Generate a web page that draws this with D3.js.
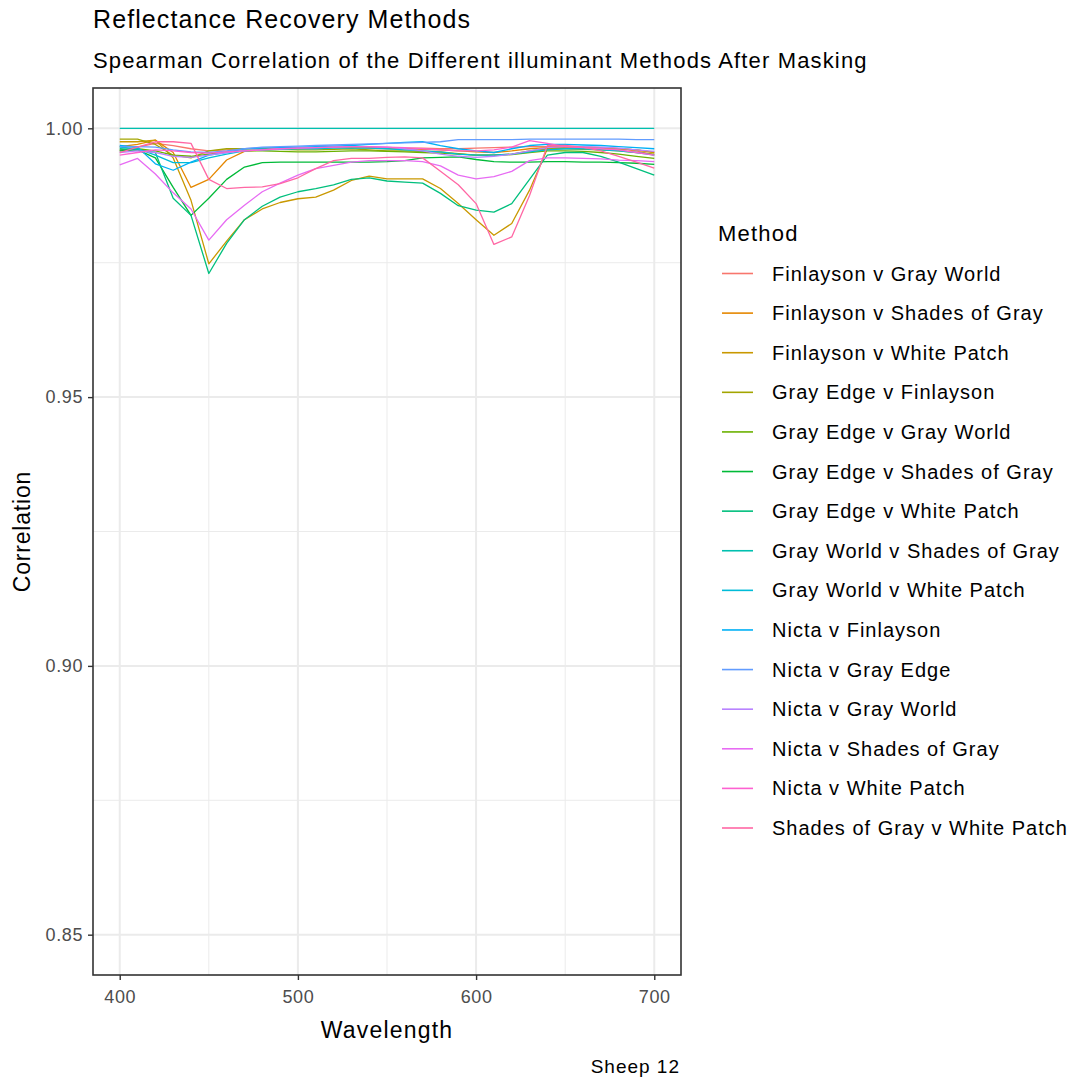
<!DOCTYPE html>
<html>
<head>
<meta charset="utf-8">
<script src="https://cdn.jsdelivr.net/npm/d3@7"></script>
<style>
  html, body { margin: 0; padding: 0; background: #ffffff; }
  svg text { font-family: "Liberation Sans", Arial, sans-serif; }
</style>
</head>
<body>
<svg id="chart" width="1079" height="1078"></svg>
<script>
// Wavelengths (nm) at which each pair of recovery methods is compared
const wavelengths = [400,410,420,430,440,450,460,470,480,490,500,510,520,530,540,550,560,570,580,590,600,610,620,630,640,650,660,670,680,690,700];

const methods = [
  "Finlayson v Gray World",
  "Finlayson v Shades of Gray",
  "Finlayson v White Patch",
  "Gray Edge v Finlayson",
  "Gray Edge v Gray World",
  "Gray Edge v Shades of Gray",
  "Gray Edge v White Patch",
  "Gray World v Shades of Gray",
  "Gray World v White Patch",
  "Nicta v Finlayson",
  "Nicta v Gray Edge",
  "Nicta v Gray World",
  "Nicta v Shades of Gray",
  "Nicta v White Patch",
  "Shades of Gray v White Patch"
];

// Spearman correlation per method pair, one value per wavelength
const finlaysonGrayWorld = [0.9958,0.9965,0.9972,0.9968,0.9962,0.9958,0.9960,0.9962,0.9963,0.9963,0.9964,0.9964,0.9965,0.9965,0.9964,0.9964,0.9963,0.9963,0.9962,0.9962,0.9963,0.9964,0.9965,0.9966,0.9966,0.9966,0.9965,0.9964,0.9962,0.9958,0.9950];
const finlaysonShades = [0.9966,0.9970,0.9978,0.9955,0.9890,0.9905,0.9941,0.9957,0.9960,0.9961,0.9962,0.9963,0.9964,0.9964,0.9963,0.9962,0.9962,0.9961,0.9960,0.9958,0.9956,0.9955,0.9958,0.9962,0.9964,0.9965,0.9965,0.9964,0.9962,0.9960,0.9955];
const finlaysonWhitePatch = [0.9975,0.9975,0.9978,0.9945,0.9866,0.9748,0.9790,0.9830,0.9850,0.9862,0.9869,0.9872,0.9885,0.9903,0.9911,0.9906,0.9906,0.9906,0.9888,0.9860,0.9830,0.9801,0.9823,0.9885,0.9962,0.9964,0.9964,0.9963,0.9962,0.9960,0.9955];
const grayEdgeFinlayson = [0.9980,0.9980,0.9970,0.9950,0.9945,0.9958,0.9962,0.9962,0.9962,0.9961,0.9960,0.9960,0.9961,0.9962,0.9960,0.9958,0.9958,0.9957,0.9956,0.9953,0.9950,0.9950,0.9952,0.9958,0.9962,0.9962,0.9961,0.9960,0.9958,0.9955,0.9952];
const grayEdgeGrayWorld = [0.9960,0.9962,0.9958,0.9950,0.9948,0.9952,0.9956,0.9958,0.9958,0.9957,0.9956,0.9956,0.9957,0.9958,0.9958,0.9957,0.9956,0.9955,0.9954,0.9952,0.9950,0.9950,0.9951,0.9955,0.9958,0.9958,0.9957,0.9955,0.9952,0.9948,0.9944];
const grayEdgeShades = [0.9958,0.9960,0.9945,0.9890,0.9838,0.9870,0.9905,0.9928,0.9936,0.9937,0.9937,0.9937,0.9937,0.9937,0.9937,0.9938,0.9940,0.9945,0.9946,0.9947,0.9942,0.9938,0.9937,0.9937,0.9938,0.9938,0.9937,0.9937,0.9936,0.9935,0.9933];
const grayEdgeWhitePatch = [0.9962,0.9960,0.9955,0.9870,0.9838,0.9730,0.9786,0.9830,0.9855,0.9872,0.9882,0.9888,0.9895,0.9905,0.9908,0.9902,0.9900,0.9898,0.9879,0.9856,0.9848,0.9844,0.9860,0.9905,0.9950,0.9955,0.9955,0.9948,0.9937,0.9925,0.9913];
const grayWorldShades = [1,1,1,1,1,1,1,1,1,1,1,1,1,1,1,1,1,1,1,1,1,1,1,1,1,1,1,1,1,1,1];
const grayWorldWhitePatch = [0.9965,0.9962,0.9950,0.9936,0.9936,0.9945,0.9952,0.9958,0.9960,0.9961,0.9962,0.9962,0.9963,0.9963,0.9963,0.9962,0.9960,0.9958,0.9956,0.9952,0.9950,0.9950,0.9952,0.9956,0.9960,0.9962,0.9962,0.9960,0.9958,0.9955,0.9950];
const nictaFinlayson = [0.9968,0.9965,0.9934,0.9922,0.9937,0.9950,0.9955,0.9962,0.9963,0.9964,0.9965,0.9966,0.9967,0.9968,0.9970,0.9972,0.9974,0.9975,0.9968,0.9962,0.9958,0.9955,0.9962,0.9968,0.9970,0.9970,0.9969,0.9968,0.9966,0.9964,0.9962];
const nictaGrayEdge = [0.9966,0.9966,0.9965,0.9960,0.9956,0.9955,0.9958,0.9962,0.9965,0.9966,0.9967,0.9968,0.9969,0.9970,0.9971,0.9972,0.9973,0.9974,0.9975,0.9979,0.9979,0.9979,0.9979,0.9980,0.9980,0.9980,0.9980,0.9980,0.9980,0.9979,0.9979];
const nictaGrayWorld = [0.9955,0.9958,0.9955,0.9948,0.9946,0.9950,0.9955,0.9958,0.9960,0.9962,0.9963,0.9964,0.9965,0.9966,0.9966,0.9965,0.9962,0.9958,0.9952,0.9948,0.9946,0.9948,0.9952,0.9958,0.9964,0.9966,0.9966,0.9965,0.9963,0.9960,0.9957];
const nictaShades = [0.9932,0.9944,0.9915,0.9880,0.9850,0.9792,0.9830,0.9857,0.9882,0.9898,0.9913,0.9925,0.9931,0.9937,0.9940,0.9940,0.9940,0.9938,0.9930,0.9913,0.9906,0.9910,0.9920,0.9940,0.9945,0.9945,0.9944,0.9943,0.9941,0.9940,0.9938];
const nictaWhitePatch = [0.9950,0.9955,0.9960,0.9958,0.9955,0.9954,0.9956,0.9958,0.9960,0.9962,0.9963,0.9964,0.9965,0.9966,0.9966,0.9965,0.9964,0.9962,0.9960,0.9958,0.9958,0.9960,0.9965,0.9977,0.9972,0.9966,0.9964,0.9962,0.9960,0.9955,0.9950];
const shadesWhitePatch = [0.9955,0.9965,0.9975,0.9975,0.9972,0.9905,0.9888,0.9890,0.9891,0.9897,0.9908,0.9925,0.9940,0.9944,0.9944,0.9946,0.9947,0.9945,0.9920,0.9895,0.9860,0.9784,0.9798,0.9875,0.9968,0.9968,0.9965,0.9958,0.9948,0.9937,0.9926];

const seriesValues = [
  finlaysonGrayWorld, finlaysonShades, finlaysonWhitePatch,
  grayEdgeFinlayson, grayEdgeGrayWorld, grayEdgeShades, grayEdgeWhitePatch,
  grayWorldShades, grayWorldWhitePatch,
  nictaFinlayson, nictaGrayEdge, nictaGrayWorld, nictaShades, nictaWhitePatch,
  shadesWhitePatch
];

const colors = ["#F8766D","#E58700","#C99800","#A3A500","#6BB100","#00BA38","#00BF7D","#00C0AF","#00BCD8","#00B0F6","#619CFF","#B983FF","#E76BF3","#FD61D1","#FF67A4"];

const xTicks = [400, 500, 600, 700];
const xMinor = [450, 550, 650];
const yTicks = [0.85, 0.90, 0.95, 1.00];
const yMinor = [0.875, 0.925, 0.975];

const titleText = "Reflectance Recovery Methods";
const subtitleText = "Spearman Correlation of the Different illuminant Methods After Masking";
const xTitle = "Wavelength";
const yTitle = "Correlation";
const captionText = "Sheep 12";
const legendTitle = "Method";

// Panel geometry
const panel = { left: 93, right: 681, top: 88, bottom: 975 };

const svg = d3.select("#chart");

const x = d3.scaleLinear().domain([385, 715]).range([panel.left, panel.right]);
const y = d3.scaleLinear().domain([0.8425, 1.0075]).range([panel.bottom, panel.top]);

// Grid
const grid = svg.append("g");
grid.selectAll(".xminor").data(xMinor).join("line")
  .attr("x1", d => x(d)).attr("x2", d => x(d))
  .attr("y1", panel.top).attr("y2", panel.bottom)
  .attr("stroke", "#EBEBEB").attr("stroke-width", 1);
grid.selectAll(".yminor").data(yMinor).join("line")
  .attr("x1", panel.left).attr("x2", panel.right)
  .attr("y1", d => y(d)).attr("y2", d => y(d))
  .attr("stroke", "#EBEBEB").attr("stroke-width", 1);
grid.selectAll(".xmajor").data(xTicks).join("line")
  .attr("x1", d => x(d)).attr("x2", d => x(d))
  .attr("y1", panel.top).attr("y2", panel.bottom)
  .attr("stroke", "#EBEBEB").attr("stroke-width", 2);
grid.selectAll(".ymajor").data(yTicks).join("line")
  .attr("x1", panel.left).attr("x2", panel.right)
  .attr("y1", d => y(d)).attr("y2", d => y(d))
  .attr("stroke", "#EBEBEB").attr("stroke-width", 2);

// Lines
const line = d3.line()
  .x((d, i) => x(wavelengths[i]))
  .y(d => y(d));

svg.append("g").selectAll("path")
  .data(seriesValues)
  .join("path")
  .attr("d", d => line(d))
  .attr("fill", "none")
  .attr("stroke", (d, i) => colors[i])
  .attr("stroke-width", 1.3)
  .attr("stroke-linejoin", "round");

// Panel border
svg.append("rect")
  .attr("x", panel.left).attr("y", panel.top)
  .attr("width", panel.right - panel.left).attr("height", panel.bottom - panel.top)
  .attr("fill", "none").attr("stroke", "#333333").attr("stroke-width", 1.6);

// Axes
const xAxis = d3.axisBottom(x).tickValues(xTicks).tickFormat(d3.format("d")).tickSize(5).tickPadding(10);
const gx = svg.append("g").attr("transform", `translate(0,${panel.bottom})`).call(xAxis);
const yAxis = d3.axisLeft(y).tickValues(yTicks).tickFormat(d3.format(".2f")).tickSize(5).tickPadding(5);
const gy = svg.append("g").attr("transform", `translate(${panel.left},0)`).call(yAxis);
[gx, gy].forEach(g => {
  g.select(".domain").remove();
  g.selectAll(".tick line").attr("stroke", "#333333").attr("stroke-width", 1.4);
  g.selectAll(".tick text").attr("fill", "#4D4D4D")
    .style("font-family", '"Liberation Sans", Arial, sans-serif')
    .style("font-size", "18px")
    .style("letter-spacing", "0.6px");
});

// Titles
svg.append("text").attr("x", 93).attr("y", 28)
  .attr("font-size", 25).style("letter-spacing", "1.1px").attr("fill", "#000").text(titleText);
svg.append("text").attr("x", 93).attr("y", 68)
  .attr("font-size", 22).style("letter-spacing", "1.15px").attr("fill", "#000").text(subtitleText);
svg.append("text").attr("x", (panel.left + panel.right) / 2).attr("y", 1038)
  .attr("text-anchor", "middle").attr("font-size", 23).style("letter-spacing", "1.2px")
  .attr("fill", "#000").text(xTitle);
svg.append("text")
  .attr("transform", `translate(30,${(panel.top + panel.bottom) / 2}) rotate(-90)`)
  .attr("text-anchor", "middle").attr("font-size", 23).style("letter-spacing", "0.8px")
  .attr("fill", "#000").text(yTitle);
svg.append("text").attr("x", 680).attr("y", 1073)
  .attr("text-anchor", "end").attr("font-size", 19).style("letter-spacing", "1px")
  .attr("fill", "#000").text(captionText);

// Legend
const legend = svg.append("g");
legend.append("text").attr("x", 718).attr("y", 241)
  .attr("font-size", 22).style("letter-spacing", "1.2px").attr("fill", "#000").text(legendTitle);
const rowY = d3.scalePoint().domain(methods).range([273.5, 828]);
const rows = legend.selectAll(".row").data(methods).join("g")
  .attr("transform", d => `translate(0,${rowY(d)})`);
rows.append("line").attr("x1", 722).attr("x2", 753).attr("y1", 0).attr("y2", 0)
  .attr("stroke", (d, i) => colors[i]).attr("stroke-width", 1.6);
rows.append("text").attr("x", 772).attr("y", 0).attr("dy", "0.35em")
  .attr("font-size", 20).style("letter-spacing", "1px").attr("fill", "#000").text(d => d);
</script>
</body>
</html>
